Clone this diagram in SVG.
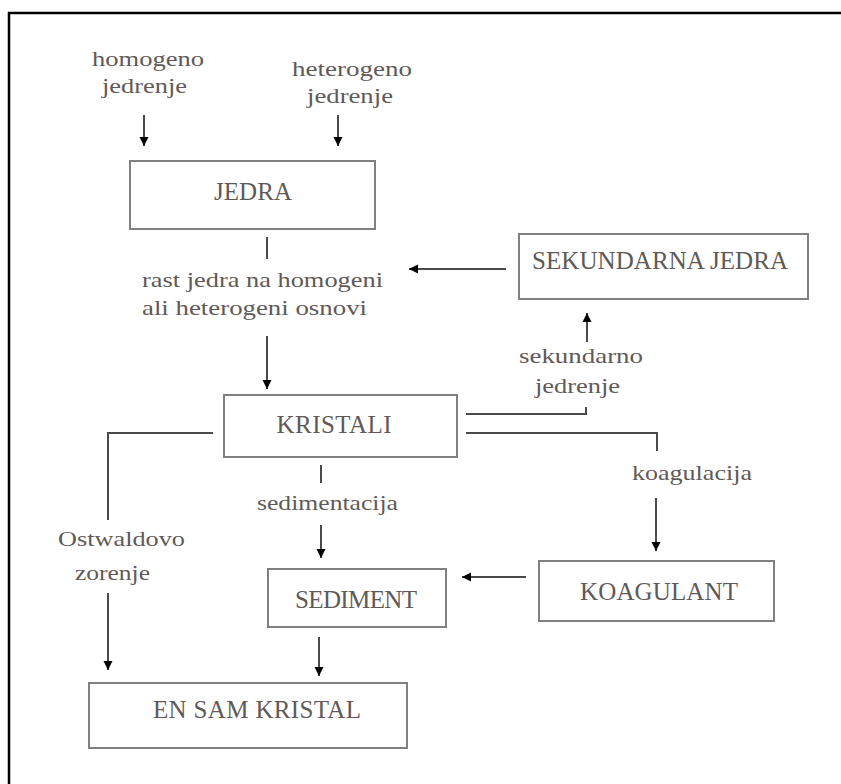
<svg xmlns="http://www.w3.org/2000/svg" width="841" height="784" viewBox="0 0 841 784">
<style>
.frame{stroke:#000;stroke-width:2.5;fill:none}
.box{fill:#fff;stroke:#808080;stroke-width:2}
.nt{font-size:25px;fill:#5f5a58;text-anchor:middle}
.lb{font-size:21px;fill:#5f5a58}
.ln{stroke:#4a4a4a;stroke-width:2;fill:none}
.ar{stroke:#4a4a4a;stroke-width:2;fill:none;marker-end:url(#ah)}
</style>
<defs>
<marker id="ah" viewBox="0 0 10 10" refX="10" refY="5" markerWidth="9" markerHeight="10" markerUnits="userSpaceOnUse" orient="auto">
<path d="M0,0 L10,5 L0,10 z" fill="#000"/>
</marker>
</defs>
<rect width="841" height="784" fill="#fff"/>
<path class="frame" d="M9,784 V13 H841"/>

<g id="connectors">
<line class="ar" x1="144" y1="115" x2="144" y2="146"/>
<line class="ar" x1="338" y1="115" x2="338" y2="146"/>
<line class="ln" x1="267" y1="237" x2="267" y2="259"/>
<line class="ar" x1="267" y1="336" x2="267" y2="389"/>
<line class="ar" x1="506" y1="269" x2="409" y2="269"/>
<polyline class="ln" points="466,414 586,414 586,407"/>
<line class="ar" x1="587" y1="342" x2="587" y2="313"/>
<polyline class="ln" points="466,433 657,433 657,451"/>
<line class="ar" x1="656" y1="498" x2="656" y2="551"/>
<line class="ar" x1="526" y1="577" x2="462" y2="577"/>
<line class="ln" x1="321" y1="465" x2="321" y2="483"/>
<line class="ar" x1="321" y1="525" x2="321" y2="558"/>
<line class="ar" x1="319" y1="637" x2="319" y2="676"/>
<polyline class="ln" points="213,433 108,433 108,520"/>
<line class="ar" x1="108" y1="593" x2="108" y2="670"/>
</g>

<g id="labels" font-family="'Liberation Serif', 'Times New Roman', 'DejaVu Serif', serif">
<text class="lb" x="92" y="66" textLength="112" lengthAdjust="spacingAndGlyphs">homogeno</text>
<text class="lb" x="102" y="93" textLength="85" lengthAdjust="spacingAndGlyphs">jedrenje</text>
<text class="lb" x="292" y="76" textLength="120" lengthAdjust="spacingAndGlyphs">heterogeno</text>
<text class="lb" x="307" y="103" textLength="86" lengthAdjust="spacingAndGlyphs">jedrenje</text>
<text class="lb" x="142" y="287" textLength="241" lengthAdjust="spacingAndGlyphs">rast jedra na homogeni</text>
<text class="lb" x="142" y="315" textLength="225" lengthAdjust="spacingAndGlyphs">ali heterogeni osnovi</text>
<text class="lb" x="519" y="363" textLength="124" lengthAdjust="spacingAndGlyphs">sekundarno</text>
<text class="lb" x="535" y="393" textLength="85" lengthAdjust="spacingAndGlyphs">jedrenje</text>
<text class="lb" x="632" y="480" textLength="120" lengthAdjust="spacingAndGlyphs">koagulacija</text>
<text class="lb" x="257" y="510" textLength="141" lengthAdjust="spacingAndGlyphs">sedimentacija</text>
<text class="lb" x="58" y="546" textLength="127" lengthAdjust="spacingAndGlyphs">Ostwaldovo</text>
<text class="lb" x="75" y="580" textLength="75" lengthAdjust="spacingAndGlyphs">zorenje</text>
</g>

<g id="nodes" font-family="'Liberation Serif', 'Times New Roman', 'DejaVu Serif', serif">
<g id="jedra">
<rect class="box" x="130" y="161" width="245" height="68"/>
<text class="nt" x="253" y="200" textLength="78">JEDRA</text>
</g>
<g id="sekundarna-jedra">
<rect class="box" x="519" y="234" width="289" height="65"/>
<text class="nt" x="660" y="269" textLength="256">SEKUNDARNA JEDRA</text>
</g>
<g id="kristali">
<rect class="box" x="224" y="395" width="233" height="62"/>
<text class="nt" x="334" y="433" textLength="115">KRISTALI</text>
</g>
<g id="sediment">
<rect class="box" x="268" y="569" width="178" height="58"/>
<text class="nt" x="356" y="608" textLength="122">SEDIMENT</text>
</g>
<g id="koagulant">
<rect class="box" x="539" y="561" width="235" height="60"/>
<text class="nt" x="659" y="600" textLength="158">KOAGULANT</text>
</g>
<g id="en-sam-kristal">
<rect class="box" x="89" y="683" width="318" height="65"/>
<text class="nt" x="257" y="718" textLength="208">EN SAM KRISTAL</text>
</g>
</g>
</svg>
